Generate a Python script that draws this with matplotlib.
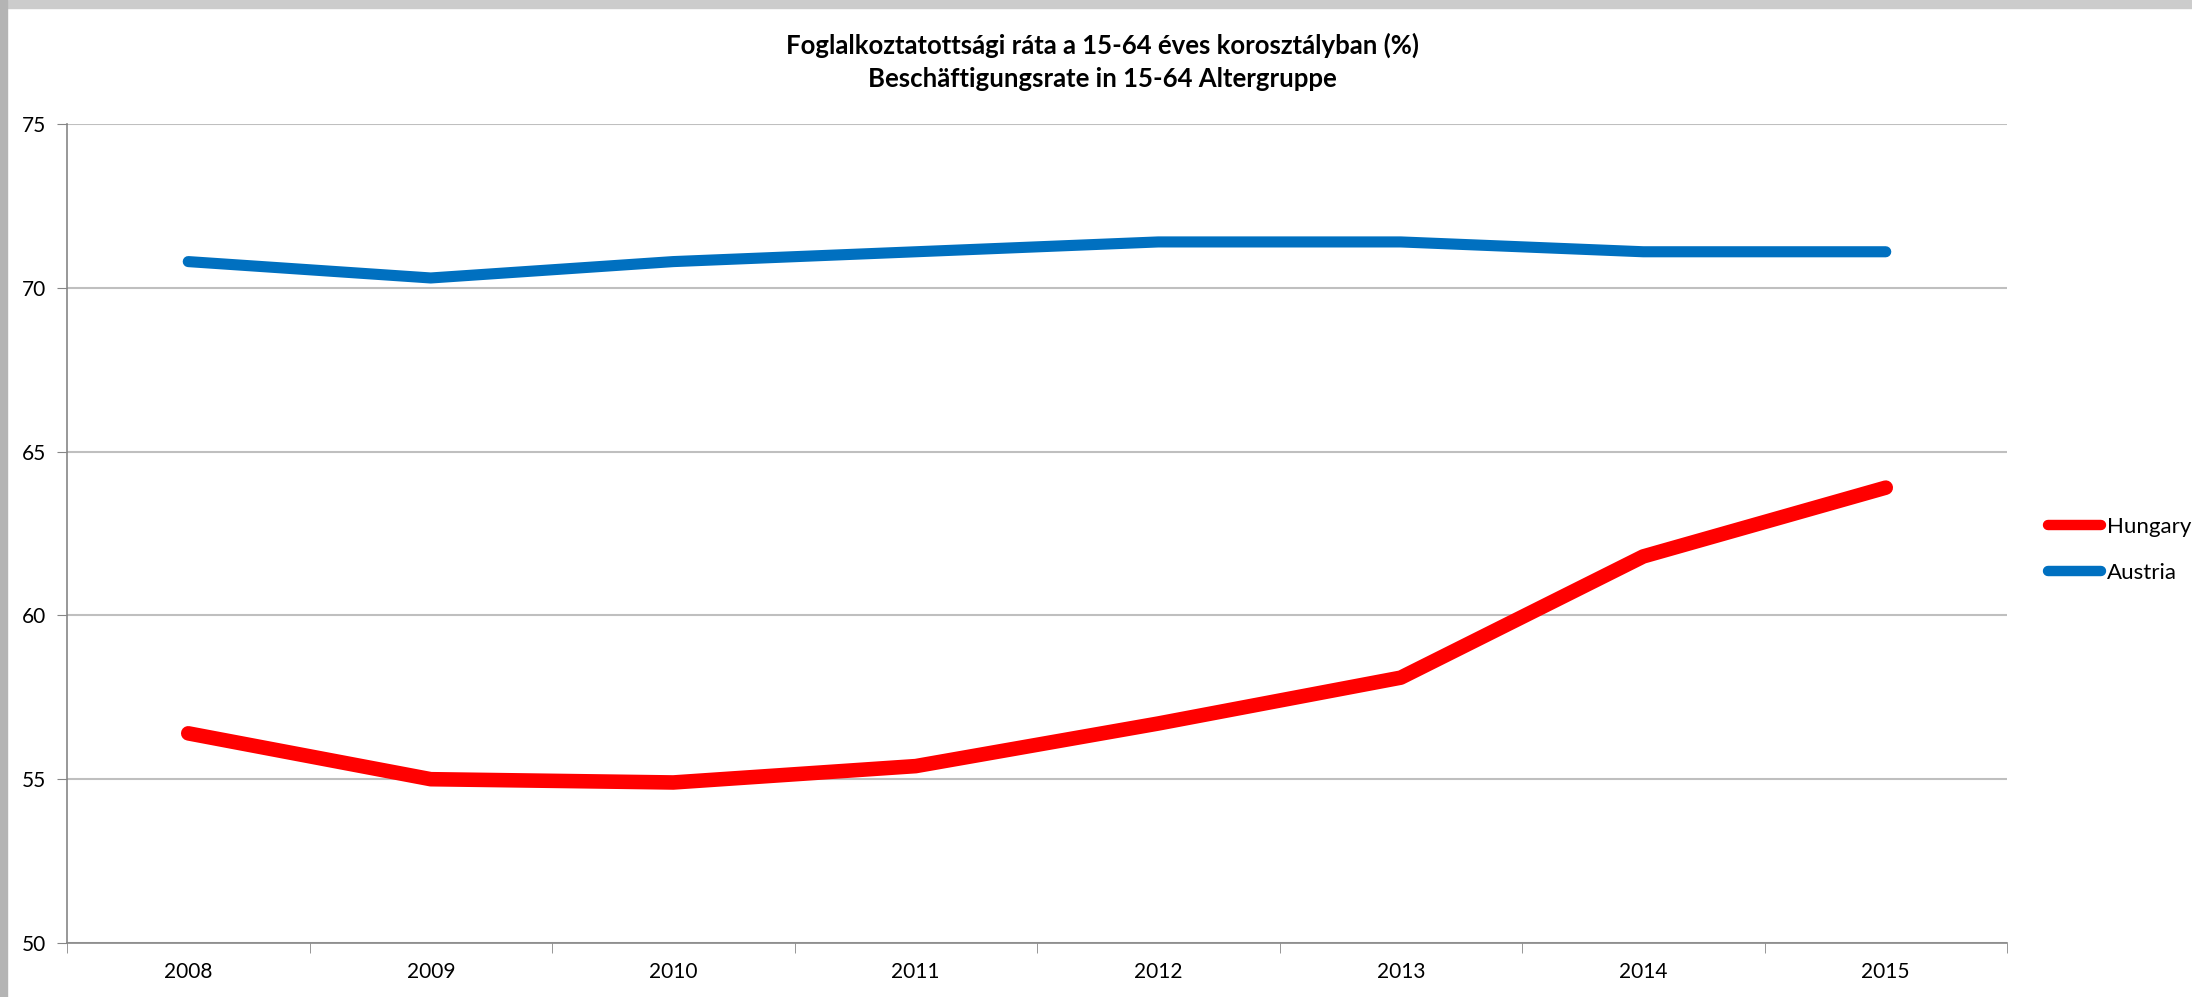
import matplotlib
matplotlib.use("Agg")
import matplotlib.pyplot as plt
import numpy as np
from matplotlib.patches import Rectangle

YEARS = ["2008", "2009", "2010", "2011", "2012", "2013", "2014", "2015"]
HUNGARY = [56.4, 55.0, 54.9, 55.4, 56.7, 58.1, 61.8, 63.9]
AUSTRIA = [70.8, 70.3, 70.8, 71.1, 71.4, 71.4, 71.1, 71.1]
TITLE = "Foglalkoztatottsági ráta a 15-64 éves korosztályban (%)\nBeschäftigungsrate in 15-64 Altergruppe"

W, H = 2192, 997
plt.rcParams["font.family"] = ["Lato", "DejaVu Sans"]

fig = plt.figure(figsize=(W / 100, H / 100), dpi=100)
ax = fig.add_axes([67 / W, 1 - 943 / H, (2007 - 67) / W, (943 - 124) / H])

x = np.arange(len(YEARS))
ax.plot(x, AUSTRIA, color="#0070c0", lw=8, solid_capstyle="round",
        solid_joinstyle="round", label="Austria", zorder=3)
ax.plot(x, HUNGARY, color="#ff0000", lw=10.5, solid_capstyle="round",
        solid_joinstyle="round", label="Hungary", zorder=3)

ax.set_xlim(-0.5, len(YEARS) - 0.5)
ax.set_ylim(50, 75)
ax.set_yticks(range(50, 76, 5))
ax.set_xticks(x)
ax.set_xticklabels(YEARS)
ax.set_xticks(np.arange(-0.5, len(YEARS)), minor=True)
ax.tick_params(axis="x", which="major", length=0, pad=14, labelsize=15)
ax.tick_params(axis="x", which="minor", length=7, color="#868686", direction="out")
ax.tick_params(axis="y", length=7, color="#868686", direction="out", pad=8, labelsize=15)
ax.grid(axis="y", color="#bfbfbf", lw=1.5, zorder=0)
for s in ("top", "right"):
    ax.spines[s].set_visible(False)
for s in ("left", "bottom"):
    ax.spines[s].set_color("#868686")
    ax.spines[s].set_linewidth(1.2)

fig.text(1102 / W, 1 - 62 / H, TITLE, ha="center", va="center",
         fontsize=18.5, fontweight="bold", linespacing=1.45)

h, l = ax.get_legend_handles_labels()
leg = fig.legend(h[::-1], l[::-1], loc="center left",
                 bbox_to_anchor=(2028 / W, 1 - 550 / H), frameon=False,
                 fontsize=16, handlelength=2.4, handletextpad=0.25,
                 labelspacing=1.15)
for ln in leg.get_lines():
    ln.set_linewidth(7.5)

# grey frame strips from the screenshot
fig.patches.append(Rectangle((0, 1 - 8 / H), 1, 8 / H, transform=fig.transFigure,
                             color="#cccccc", zorder=10))
fig.patches.append(Rectangle((0, 0), 7 / W, 1, transform=fig.transFigure,
                             color="#b4b4b4", zorder=10))

fig.savefig("out.png", dpi=100)
